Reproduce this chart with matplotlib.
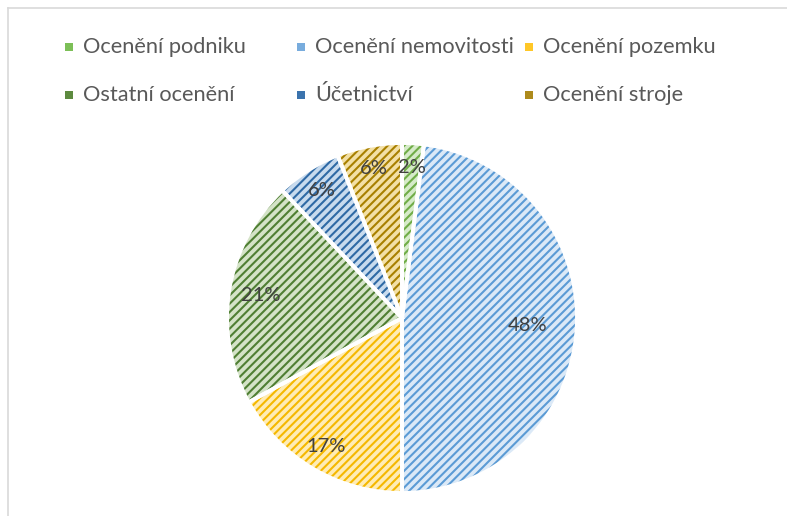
import matplotlib.pyplot as plt
from matplotlib.patches import Rectangle
from matplotlib.lines import Line2D
import numpy as np

# data
categories = ["Ocenění podniku", "Ocenění nemovitosti", "Ocenění pozemku",
              "Ostatní ocenění", "Účetnictví", "Ocenění stroje"]
shares = [2, 48, 17, 21, 6, 6]

# styling
face_colors = ["#d6ebc9", "#dbe9f7", "#ffecb5", "#d4e3c7", "#c8dbee", "#f3e0a6"]
hatch_colors = ["#70ad47", "#5b9bd5", "#f5b800", "#4f7f33", "#2f6aa5", "#a88000"]
legend_colors = ["#7cbf57", "#78acdd", "#ffc727", "#5d8a3f", "#3b73ad", "#ad8a1c"]
label_dist = [0.86, 0.72, 0.85, 0.82, 0.86, 0.87]

W, H = 787, 516
plt.rcParams['font.family'] = ['Lato', 'DejaVu Sans']
plt.rcParams['hatch.linewidth'] = 1.5

fig = plt.figure(figsize=(W / 100, H / 100), dpi=100)

# pie area in pixels: center (402, 318), radius 175
cx, cy, r = 402, 318, 175
ax = fig.add_axes([(cx - r) / W, (H - cy - r) / H, 2 * r / W, 2 * r / H])

wedges, _ = ax.pie(shares, startangle=90, counterclock=False,
                   colors=face_colors, wedgeprops=dict(linewidth=0))
for w, hc in zip(wedges, hatch_colors):
    w.set_hatch('////')
    w.set_edgecolor(hc)
    w.set_linewidth(0)

# white separators
ax.pie(shares, startangle=90, counterclock=False, colors=['none'] * len(shares),
       wedgeprops=dict(edgecolor='white', linewidth=2.8))

for w, val, d in zip(wedges, shares, label_dist):
    ang = np.deg2rad((w.theta1 + w.theta2) / 2)
    ax.text(d * np.cos(ang), d * np.sin(ang), f"{val}%", ha='center', va='center',
            fontsize=14.5, color='#404040')

ax.set_xlim(-1, 1)
ax.set_ylim(-1, 1)

# legend drawn by hand (Excel-like equal columns)
col_x = [69, 301, 529]
row_y = [47, 95]
for i, (name, lc) in enumerate(zip(categories, legend_colors)):
    mx = col_x[i % 3]
    my = row_y[i // 3]
    s = 8
    fig.add_artist(Rectangle(((mx - s / 2) / W, (H - my - s / 2) / H), s / W, s / H,
                             transform=fig.transFigure, facecolor=lc,
                             edgecolor='none'))
    fig.text((mx + 14) / W, (H - my) / H, name, ha='left', va='center',
             fontsize=15.7, color='#595959')

# chart frame (cropped screenshot: only top and left visible)
fig.add_artist(Line2D([8 / W, 1], [1 - 8 / H, 1 - 8 / H], transform=fig.transFigure,
                      color='#d9d9d9', lw=1.2))
fig.add_artist(Line2D([8 / W, 8 / W], [0, 1 - 8 / H], transform=fig.transFigure,
                      color='#d9d9d9', lw=1.2))

fig.savefig("out.png", dpi=100)
